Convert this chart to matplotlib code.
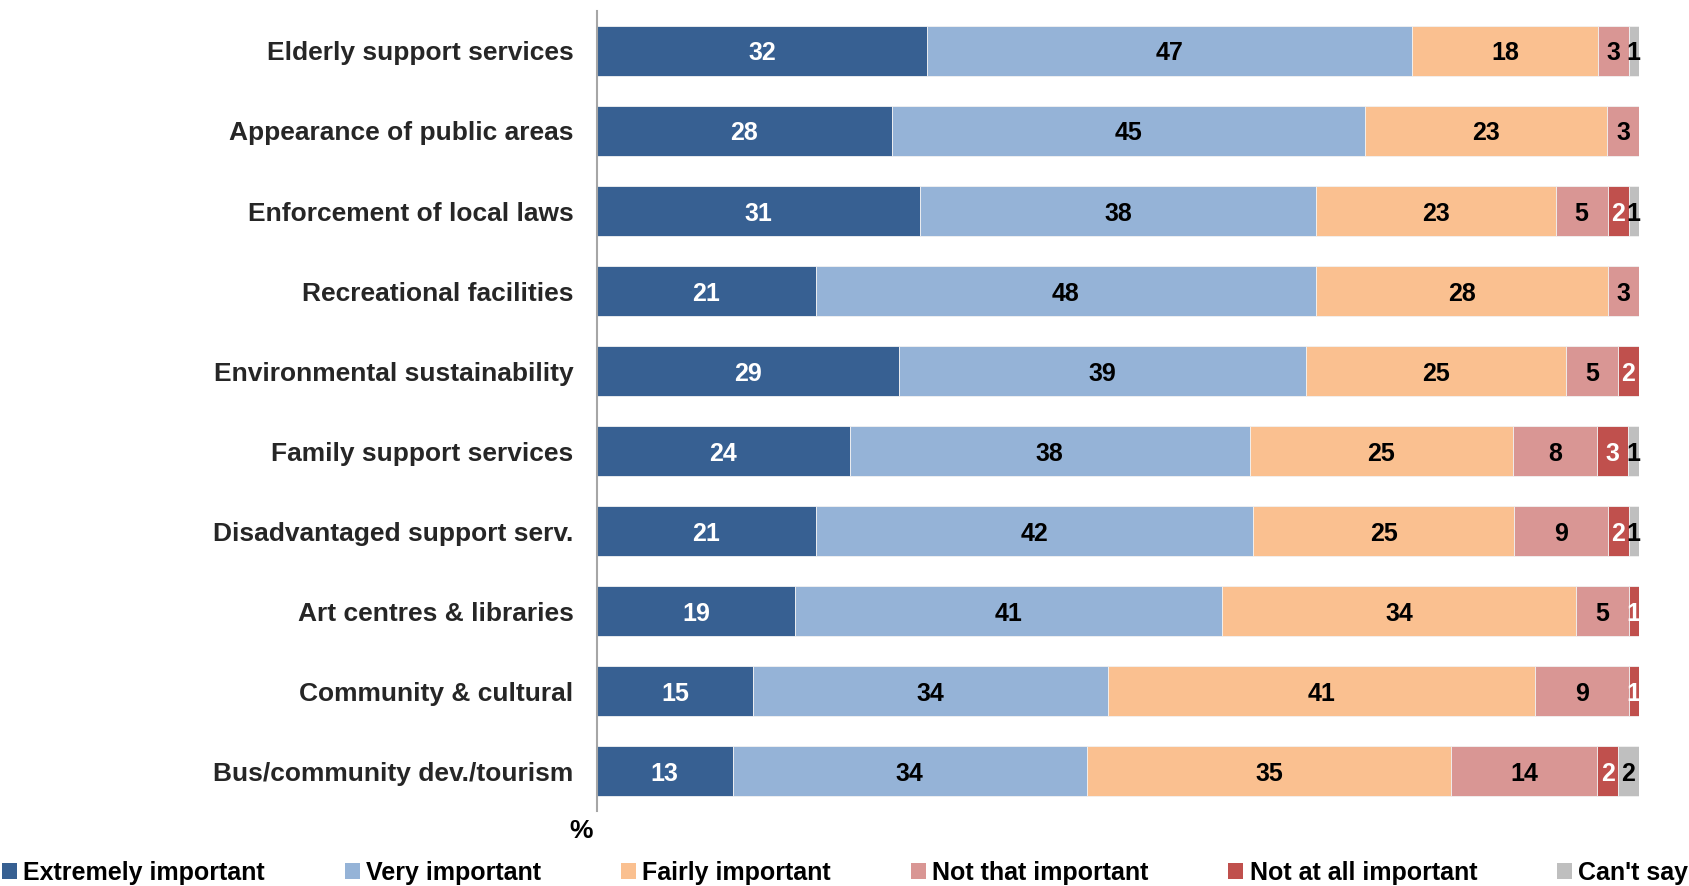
import numpy as np
import matplotlib.pyplot as plt
from matplotlib.patches import Patch

# ---------- DATA ----------
categories = [
    "Elderly support services",
    "Appearance of public areas",
    "Enforcement of local laws",
    "Recreational facilities",
    "Environmental sustainability",
    "Family support services",
    "Disadvantaged support serv.",
    "Art centres & libraries",
    "Community & cultural",
    "Bus/community dev./tourism",
]
series_names = ["Extremely important", "Very important", "Fairly important",
                "Not that important", "Not at all important", "Can't say"]
extremely = [32, 28, 31, 21, 29, 24, 21, 19, 15, 13]
very = [47, 45, 38, 48, 39, 38, 42, 41, 34, 34]
fairly = [18, 23, 23, 28, 25, 25, 25, 34, 41, 35]
not_that = [3, 3, 5, 3, 5, 8, 9, 5, 9, 14]
not_at_all = [0, 0, 2, 0, 2, 3, 2, 1, 1, 2]
cant_say = [1, 0, 1, 0, 0, 1, 1, 0, 0, 2]

colors = ["#376092", "#95B3D7", "#FAC090", "#D99694", "#C0504D", "#BFBFBF"]
label_colors = ["white", "black", "black", "black", "white", "black"]

plt.rcParams['font.family'] = ['Liberation Sans', 'DejaVu Sans']

# ---------- PLOT ----------
values = np.array([extremely, very, fairly, not_that, not_at_all, cant_say], dtype=float)
totals = values.sum(axis=0)
shares = values / totals * 100

fig = plt.figure(figsize=(16.9, 8.86), dpi=100)
ax = fig.add_axes([0.3533, 0.0846, 0.6165, 0.903])

y = np.arange(len(categories))
left = np.zeros(len(categories))
for i, name in enumerate(series_names):
    ax.barh(y, shares[i], left=left, height=0.63, color=colors[i],
            edgecolor="#F2F2F2", linewidth=0.6, label=name)
    for j in range(len(categories)):
        if values[i, j] > 0:
            ax.text(left[j] + shares[i, j] / 2, y[j], f"{int(values[i, j])}",
                    ha="center", va="center_baseline", fontsize=18, fontweight="bold",
                    color=label_colors[i])
    left += shares[i]

ax.set_xlim(0, 100)
ax.set_ylim(len(categories) - 0.5, -0.5)
ax.set_yticks(y)
ax.set_yticklabels(categories, fontsize=19, fontweight="bold", color="#262626")
ax.tick_params(axis="y", length=0, pad=17)
ax.set_xticks([])
for s in ["top", "right", "bottom"]:
    ax.spines[s].set_visible(False)
ax.spines["left"].set_color("#A6A6A6")
ax.spines["left"].set_linewidth(1.5)

fig.text(0.344, 0.062, "%", ha="center", va="center", fontsize=19, fontweight="bold")

handles = [Patch(facecolor=c) for c in colors]
fig.legend(handles, series_names, loc="center", bbox_to_anchor=(0.5, 0.015), ncol=6,
           frameon=False, handlelength=0.6, handleheight=0.6, handletextpad=0.25,
           columnspacing=3.2, prop={"weight": "bold", "size": 18})

fig.savefig("out.png", dpi=100)
